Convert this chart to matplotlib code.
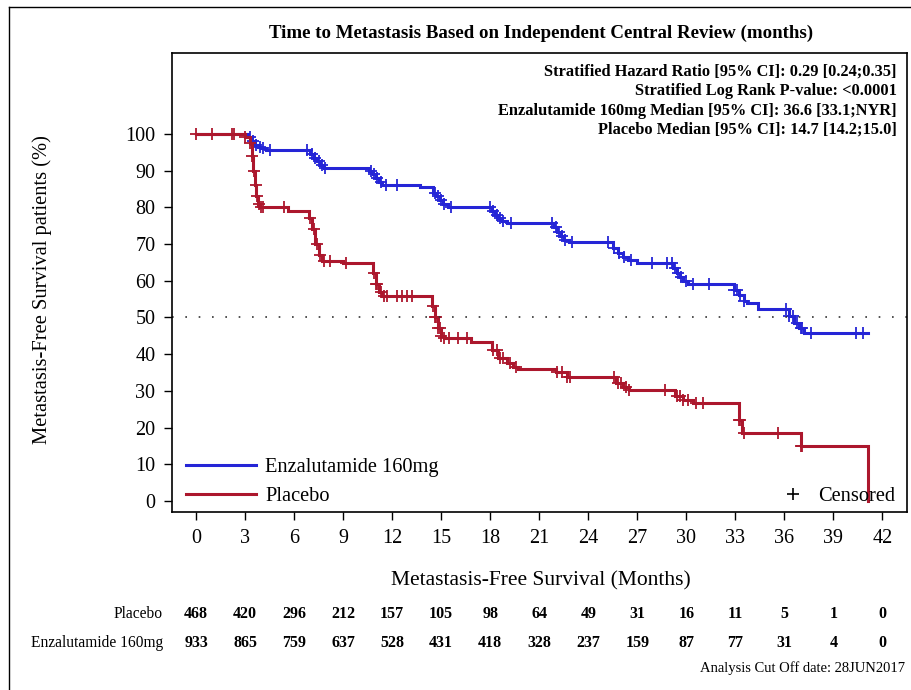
import numpy as np
import matplotlib
matplotlib.use("Agg")
import matplotlib.pyplot as plt
from matplotlib.lines import Line2D

plt.rcParams['font.family'] = ['Liberation Serif', 'DejaVu Serif']

# Kaplan-Meier step points (months, % metastasis-free)
enza_times = [0, 3.2, 3.4, 3.6, 3.8, 4.0, 4.3, 7.0, 7.2, 7.4, 7.6, 7.8,
              10.6, 10.8, 11.0, 11.2, 11.4, 13.7, 14.5, 14.7, 14.9, 15.1, 15.4,
              18.1, 18.3, 18.5, 18.7, 19.0, 21.9, 22.1, 22.3, 22.5, 22.8,
              25.5, 25.8, 26.1, 26.4, 27.0, 29.2, 29.4, 29.6, 29.8, 30.1,
              32.9, 33.2, 33.5, 33.7, 34.4, 36.3, 36.6, 36.9, 37.2, 41.1]
enza_surv = [100, 99, 98, 97, 96.5, 96, 95.6, 94.5, 93.5, 92.5, 91.5, 90.7,
             90, 89, 88, 87, 86, 85.4, 84, 83, 82, 81, 80.1,
             79, 78, 77, 76.3, 75.7, 74.5, 73.3, 72.2, 71.2, 70.4,
             69, 67.5, 66.5, 65.5, 64.8, 63.5, 62, 61, 60, 59,
             57.5, 56, 54.5, 53.9, 52.3, 50.5, 48.5, 47, 45.8, 45.8]
enza_censor = [3.3, 3.5, 3.7, 3.9, 4.1, 4.5, 6.8, 7.1, 7.3, 7.5, 7.7, 7.9,
               10.7, 10.9, 11.1, 11.3, 11.6, 12.3, 14.6, 14.8, 15.0, 15.2, 15.6,
               18.0, 18.2, 18.4, 18.6, 18.8, 19.3, 21.8, 22.0, 22.2, 22.4, 22.6,
               23.0, 25.2, 25.6, 25.9, 26.2, 26.6, 27.9, 28.8, 29.1, 29.3, 29.5,
               29.7, 30.0, 30.4, 31.4, 32.9, 33.1, 33.3, 33.5, 36.1, 36.3, 36.5,
               36.8, 37.0, 37.1, 37.6, 40.4, 40.8]

plac_times = [0, 3.0, 3.3, 3.4, 3.5, 3.6, 3.7, 3.8, 3.9, 5.6, 6.9, 7.1, 7.3,
              7.5, 7.7, 9.0, 10.8, 11.0, 11.2, 11.4, 14.45, 14.6, 14.8, 15.0,
              15.2, 16.8, 18.1, 18.5, 19.0, 19.4, 19.7, 22.0, 22.7, 25.7, 26.1,
              26.5, 29.3, 29.8, 30.4, 33.2, 33.4, 37.0, 41.1]
plac_surv = [100, 99, 97.5, 94, 90, 86, 83, 81, 80, 79, 77, 74, 70,
             67, 65.4, 64.8, 62, 59, 57, 55.9, 53, 50, 47, 45,
             44.3, 43.3, 41, 39, 37.5, 36.5, 36, 35, 33.8, 32, 31,
             30.2, 28.5, 27.5, 26.7, 22, 18.5, 15, 0]
plac_censor = [0.0, 1.0, 2.2, 2.3, 3.0, 3.3, 3.45, 3.55, 3.65, 3.75, 3.85,
               3.95, 4.1, 5.4, 7.0, 7.2, 7.4, 7.6, 7.8, 8.2, 9.2, 10.9, 11.0,
               11.1, 11.3, 11.5, 11.7, 12.3, 12.6, 12.9, 13.2, 14.5, 14.6, 14.7,
               14.8, 14.9, 15.0, 15.2, 15.5, 16.0, 16.6, 18.2, 18.4, 18.6, 18.8,
               19.2, 19.6, 22.1, 22.4, 22.7, 22.9, 25.6, 25.8, 26.0, 26.3, 26.5,
               28.7, 29.4, 29.6, 29.8, 30.1, 30.6, 31.0, 33.2, 33.3, 33.5, 35.6,
               37.0, 37.1]

# number at risk
risk_times = list(range(0, 43, 3))
plac_risk = [468, 420, 296, 212, 157, 105, 98, 64, 49, 31, 16, 11, 5, 1, 0]
enza_risk = [933, 865, 759, 637, 528, 431, 418, 328, 237, 159, 87, 77, 31, 4, 0]

stats_lines = [
    "Stratified Hazard Ratio [95% CI]: 0.29 [0.24;0.35]",
    "Stratified Log Rank P-value: <0.0001",
    "Enzalutamide 160mg Median [95% CI]: 36.6 [33.1;NYR]",
    "Placebo Median [95% CI]: 14.7 [14.2;15.0]",
]

BLUE = '#2525D6'
RED = '#AC172D'

W, H = 911, 690
fig = plt.figure(figsize=(W / 100, H / 100), dpi=100)
ax = fig.add_axes([172 / W, 1 - 512 / H, (907 - 172) / W, (512 - 53) / H])


def step_value(times, surv, t):
    i = np.searchsorted(times, t, side='right') - 1
    return np.asarray(surv)[i]


for times, surv, cens, col, lab in [
        (enza_times, enza_surv, enza_censor, BLUE, 'Enzalutamide 160mg'),
        (plac_times, plac_surv, plac_censor, RED, 'Placebo')]:
    ax.step(times, surv, where='post', color=col, lw=2.2, label=lab,
            solid_joinstyle='miter')
    ax.plot(cens, step_value(times, surv, cens), linestyle='none',
            marker='+', ms=9, mew=1.3, color=col)

ax.axhline(50, color='#333333', lw=1.2, linestyle=(0, (1, 7)))

ax.set_xlim(-1.47, 43.5)
ax.set_ylim(-3, 122)
ax.set_xticks(risk_times)
ax.set_yticks(range(0, 101, 10))
ax.tick_params(labelsize=14.5, length=6, width=1, direction='out', pad=6)
for s in ax.spines.values():
    s.set_linewidth(1.2)

fig.text(42 / W, 1 - 290 / H, "Metastasis-Free Survival patients (%)",
         rotation=90, ha='center', va='center', fontsize=14.8)
fig.text(541 / W, 1 - 578 / H, "Metastasis-Free Survival (Months)",
         ha='center', va='center_baseline', fontsize=15.5)
fig.text(541 / W, 1 - 33 / H,
         "Time to Metastasis Based on Independent Central Review (months)",
         ha='center', va='center', fontsize=13.6, fontweight='bold')

for i, line in enumerate(stats_lines):
    fig.text(897 / W, 1 - (72 + 19.3 * i) / H, line, ha='right', va='center',
             fontsize=11.8, fontweight='bold')

leg1 = ax.legend(loc='lower left', bbox_to_anchor=(0.003, -0.013), frameon=False,
                 fontsize=14.7, handlelength=3.4, handletextpad=0.45,
                 labelspacing=0.45, borderaxespad=0.2)
ax.add_artist(leg1)
cens_handle = Line2D([], [], linestyle='none', marker='+', ms=9, mew=1.2,
                     color='black')
ax.legend([cens_handle], ['Censored'], loc='lower right',
          bbox_to_anchor=(1.0, -0.013), frameon=False,
          fontsize=14.7, handlelength=1.2, handletextpad=0.6,
          borderaxespad=0.2)

# at-risk table under the x axis
tr = matplotlib.transforms.blended_transform_factory(ax.transData, fig.transFigure)
for y_px, name, row in [(614, 'Placebo', plac_risk),
                        (643, 'Enzalutamide 160mg', enza_risk)]:
    fig.text(163 / W, 1 - y_px / H, name, ha='right', va='center', fontsize=11.2)
    for t, n in zip(risk_times, row):
        ax.text(t, 1 - y_px / H, str(n), transform=tr, ha='center',
                va='center', fontsize=11.5, fontweight='bold')

fig.text(905 / W, 1 - 668 / H, "Analysis Cut Off date: 28JUN2017",
         ha='right', va='center', fontsize=10.5)

# page frame
fig.add_artist(Line2D([9 / W, 9 / W], [0, 1 - 7 / H], color='black', lw=1,
                      transform=fig.transFigure))
fig.add_artist(Line2D([9 / W, 1], [1 - 7 / H, 1 - 7 / H], color='black', lw=1,
                      transform=fig.transFigure))

fig.savefig('out.png', dpi=100)
